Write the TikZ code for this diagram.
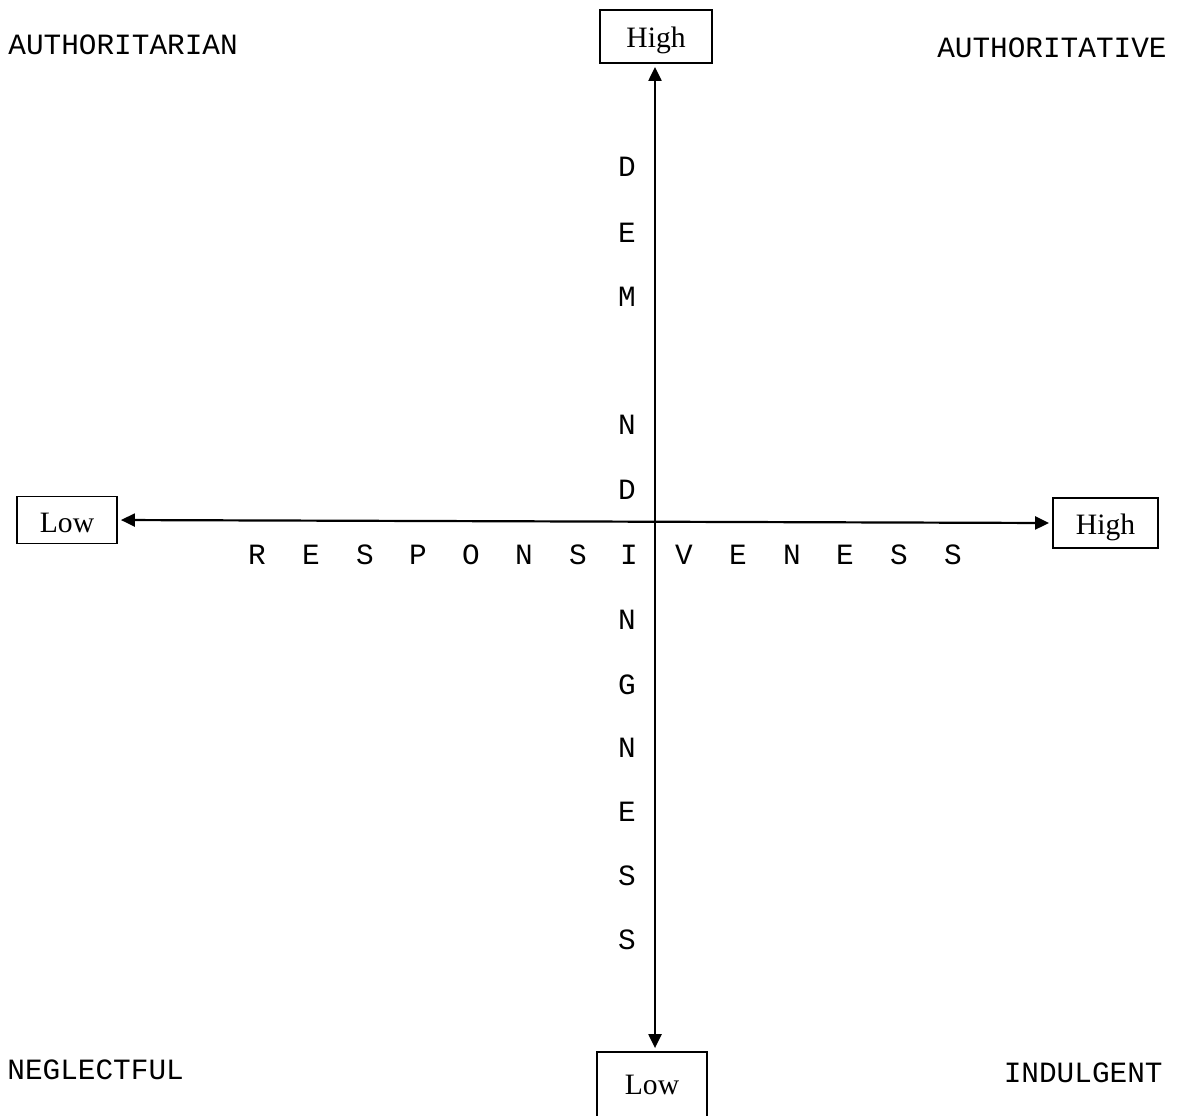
\documentclass[tikz,border=0pt]{standalone}
\usepackage{fontspec}
\setmainfont{Liberation Serif}
\setmonofont{Liberation Mono}
\usetikzlibrary{arrows.meta}
\begin{document}
\begin{tikzpicture}[x=0.5pt,y=-0.5pt,
  lab/.style={font=\ttfamily\fontsize{14.7}{16}\selectfont, inner sep=0pt},
  letter/.style={font=\ttfamily\fontsize{14.7}{16}\selectfont, inner sep=0pt},
  valbox/.style={draw, line width=0.9pt, font=\fontsize{14.8}{16}\selectfont, inner sep=0pt, text depth=0pt},
  axis/.style={line width=1.1pt, {Triangle[length=7pt,width=6.5pt]}-{Triangle[length=7pt,width=6.5pt]}, shorten <=1.5pt, shorten >=1.5pt}]
\useasboundingbox (0,0) rectangle (1178,1115);
% value boxes
\node[valbox, minimum width=56pt, minimum height=26.5pt, text height=10.8pt] (dhigh) at (656,36.5) {High};
\node[valbox, minimum width=55pt, minimum height=33pt, text height=9.8pt] (dlow) at (652,1085) {Low};
\node[valbox, minimum width=50pt, minimum height=23.5pt, text height=12.8pt] (rlow) at (67,520) {Low};
\node[valbox, minimum width=52.5pt, minimum height=25pt, text height=11.8pt] (rhigh) at (1105.5,523) {High};
% axes
\coordinate (vt) at (655,63);
\draw[axis] (dlow.north -| vt) -- (dhigh.south -| vt);
\draw[axis] (rlow.east) -- (rhigh.west);
% corner labels
\node[lab, anchor=west] (authn) at (8,45) {AUTHORITARIAN};
\node[lab, anchor=east] (authv) at (1167,48) {AUTHORITATIVE};
\node[lab, anchor=west] (negl) at (7,1070) {NEGLECTFUL};
\node[lab, anchor=east] (indu) at (1163,1073) {INDULGENT};
% vertical letters (DEMANDINGNESS)
\foreach \ch/\yy [count=\i] in {D/167,E/233,M/297,N/425,D/490,N/620,G/685,N/748,E/812,S/876,S/940}
  \node[letter] (v\i) at (627,\yy) {\ch};
% horizontal letters (RESPONSIVENESS)
\foreach \ch/\xx [count=\i] in {R/257,E/311,S/365,P/418,O/471,N/524,S/578,I/629,V/684,E/738,N/792,E/845,S/899,S/953}
  \node[letter] (h\i) at (\xx,555) {\ch};
\end{tikzpicture}
\end{document}
